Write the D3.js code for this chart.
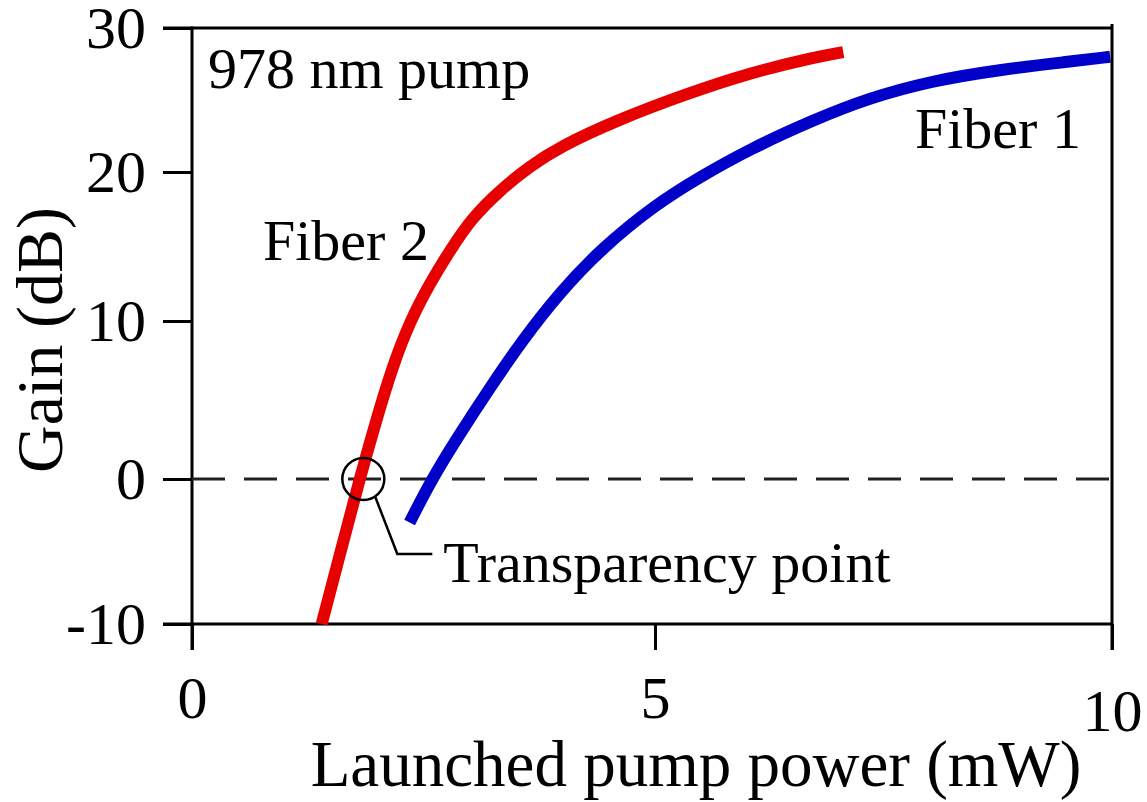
<!DOCTYPE html>
<html>
<head>
<meta charset="utf-8">
<script src="https://cdn.jsdelivr.net/npm/d3@7"></script>
<style>
  html, body { margin: 0; padding: 0; background: #fff; }
  svg { display: block; }
  text { font-family: "Liberation Serif", "Times New Roman", serif; fill: #000; }
</style>
</head>
<body>
<svg id="chart" width="1147" height="802"></svg>
<script>
// ---- data ----
const xTicks = [0, 5, 10];
const yTicks = [-10, 0, 10, 20, 30];

const fiber1X = [2.35, 2.59, 2.87, 3.22, 3.57, 3.97, 4.41, 5.0, 5.5, 6.04, 6.73, 7.32, 8.04, 8.77, 9.51, 9.98];
const fiber1Y = [-3.0, 0, 2.66, 5.8, 8.8, 11.9, 14.8, 17.8, 19.7, 21.6, 23.6, 25.1, 26.35, 27.1, 27.65, 28.0];

const fiber2X = [1.40, 1.61, 1.81, 1.99, 2.16, 2.35, 2.57, 2.79, 3.02, 3.33, 3.65, 3.97, 4.59, 5.31, 6.04, 6.77, 7.06];
const fiber2Y = [-10, -4.9, 0, 3.73, 7.03, 9.94, 12.55, 14.77, 16.9, 18.8, 20.4, 21.75, 23.6, 25.35, 26.9, 28.0, 28.33];

const transparencyX = 1.85;
const transparencyY = 0;

const labels = {
  xTitle: "Launched pump power (mW)",
  yTitle: "Gain (dB)",
  pump: "978 nm pump",
  fiber1: "Fiber 1",
  fiber2: "Fiber 2",
  transparency: "Transparency point"
};

// ---- layout ----
const svg = d3.select("#chart");
const x = d3.scaleLinear().domain([0, 5, 10]).range([192, 655, 1112]);
const y = d3.scaleLinear().domain([-10, 0, 10, 20, 30]).range([624, 479, 321, 172, 28]);

const AX = 3;
const FONT = '"Liberation Serif", "Times New Roman", serif';

// y axis
const yAxis = svg.append("g").attr("transform", `translate(${x(0)},0)`)
  .call(d3.axisLeft(y).tickValues(yTicks).tickSize(29).tickSizeOuter(0).tickPadding(17).tickFormat(d => String(d)));
yAxis.select(".domain").remove();
yAxis.selectAll(".tick line").attr("stroke", "#000").attr("stroke-width", AX);
yAxis.selectAll(".tick text").attr("font-size", 60).attr("font-family", FONT).attr("fill", "#000");

// x axis
const xAxis = svg.append("g").attr("transform", `translate(0,${y(-10)})`)
  .call(d3.axisBottom(x).tickValues(xTicks).tickSize(26).tickSizeOuter(0).tickPadding(25).tickFormat(d => String(d)));
xAxis.select(".domain").remove();
xAxis.selectAll(".tick line").attr("stroke", "#000").attr("stroke-width", AX);
xAxis.selectAll(".tick text").attr("font-size", 60).attr("font-family", FONT).attr("fill", "#000");
xAxis.selectAll(".tick text").filter(d => d === 10).attr("transform", "translate(0,13)");

// frame
const frame = svg.append("g").attr("stroke", "#000").attr("stroke-width", AX).attr("fill", "none");
frame.append("line").attr("x1", x(0) - 29).attr("x2", x(10) + 1).attr("y1", y(30)).attr("y2", y(30));
frame.append("line").attr("x1", x(0) - 29).attr("x2", x(10) + 1).attr("y1", y(-10)).attr("y2", y(-10));
frame.append("line").attr("x1", x(0)).attr("x2", x(0)).attr("y1", y(30) - 1.5).attr("y2", y(-10) + 26);
frame.append("line").attr("x1", x(10)).attr("x2", x(10)).attr("y1", y(30) - 4).attr("y2", y(-10) + 26);

// zero dashed line
svg.append("line")
  .attr("x1", x(0)).attr("x2", x(10)).attr("y1", y(0)).attr("y2", y(0))
  .attr("stroke", "#222").attr("stroke-width", 3).attr("stroke-dasharray", "33,19");

// curves
const line = d3.line().x(d => x(d[0])).y(d => y(d[1])).curve(d3.curveBasis);
const f1 = fiber1X.map((v, i) => [v, fiber1Y[i]]);
const f2 = fiber2X.map((v, i) => [v, fiber2Y[i]]);

svg.append("path").datum(f1).attr("d", line)
  .attr("fill", "none").attr("stroke", "#0000c8").attr("stroke-width", 12).attr("stroke-linecap", "butt");
svg.append("path").datum(f2).attr("d", line)
  .attr("fill", "none").attr("stroke", "#e60000").attr("stroke-width", 12).attr("stroke-linecap", "butt");

// transparency point marker & leader
const cx = x(transparencyX), cy = y(transparencyY);
svg.append("circle").attr("cx", cx).attr("cy", cy).attr("r", 21)
  .attr("fill", "none").attr("stroke", "#000").attr("stroke-width", 2.5);
svg.append("polyline")
  .attr("points", [[cx + 12, cy + 18], [cx + 34, cy + 75], [cx + 69, cy + 75]].map(p => p.join(",")).join(" "))
  .attr("fill", "none").attr("stroke", "#000").attr("stroke-width", 2.5);

// annotations
const ann = svg.append("g").attr("font-size", 58);
ann.append("text").attr("x", 208).attr("y", 88).text(labels.pump);
ann.append("text").attr("x", 263).attr("y", 260).text(labels.fiber2);
ann.append("text").attr("x", 915).attr("y", 148).text(labels.fiber1);
ann.append("text").attr("x", cx + 80).attr("y", cy + 103).text(labels.transparency);

// axis titles
svg.append("text").attr("x", 696).attr("y", 786).attr("text-anchor", "middle")
  .attr("font-size", 65).text(labels.xTitle);
svg.append("text").attr("transform", "translate(62,340) rotate(-90)").attr("text-anchor", "middle")
  .attr("font-size", 66).text(labels.yTitle);
</script>
</body>
</html>
